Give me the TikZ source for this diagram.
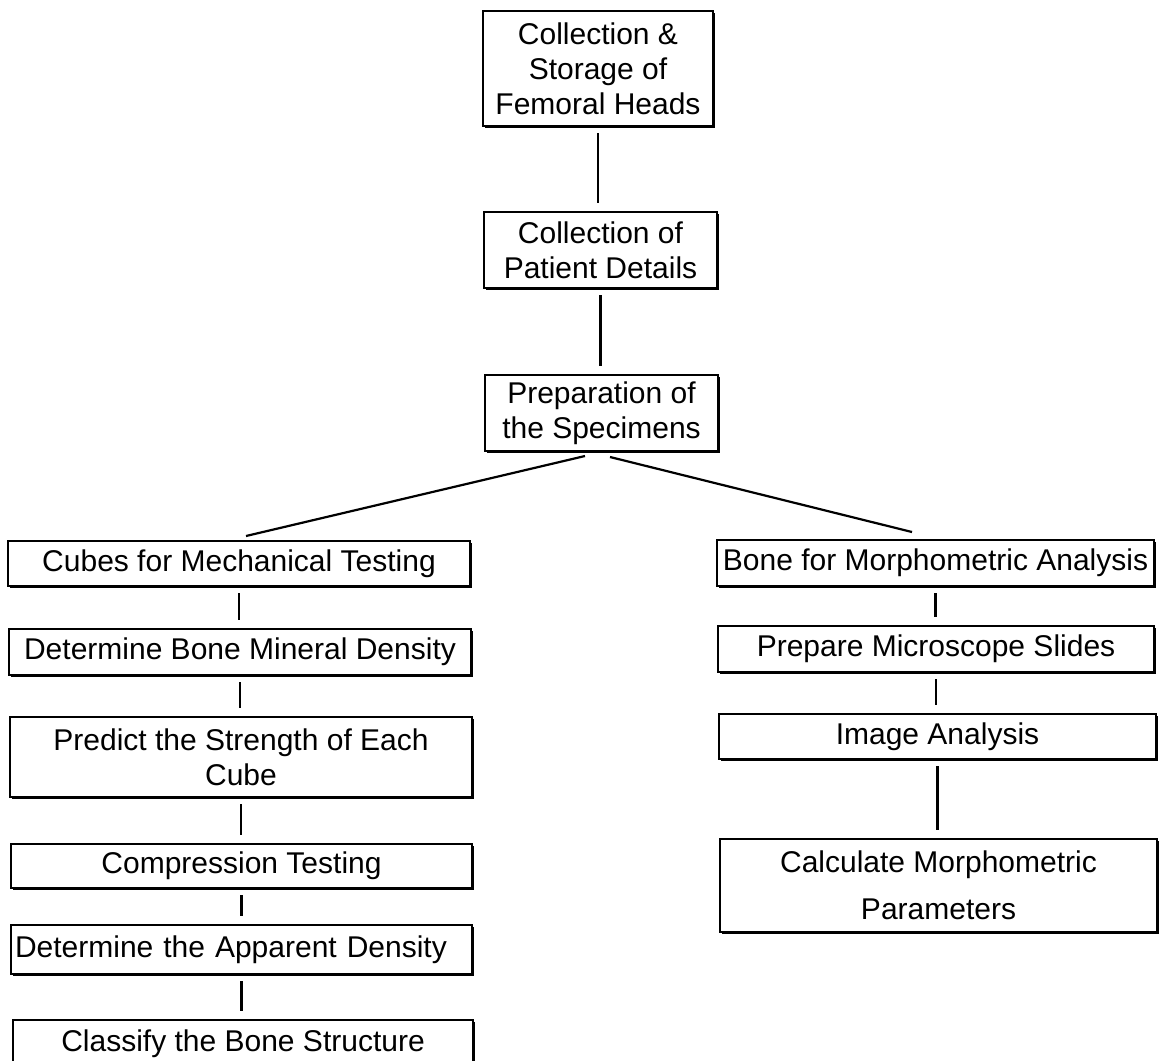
\documentclass[tikz,border=0pt]{standalone}
\usepackage{fontspec}
\setmainfont{Liberation Sans}
\usetikzlibrary{shadows}

\tikzset{
  stage/.style={draw=black,fill=white,line width=1pt,inner xsep=2pt,inner ysep=1pt,
    align=center,font=\fontsize{15}{17.5}\selectfont,
    drop shadow={shadow xshift=0.9pt,shadow yshift=-0.9pt,fill=black,opacity=1}},
  link/.style={line width=1.1pt,shorten <=3pt,shorten >=4pt}
}

\begin{document}
\begin{tikzpicture}[x=0.5pt,y=-0.5pt]

  \useasboundingbox (0,0) rectangle (1159,1060);

  % common trunk
  \node[stage,minimum width=115pt,minimum height=57.5pt] (femheads) at (598,68.5)
    {Collection \&\\Storage of\\Femoral Heads};
  \node[stage,minimum width=116.5pt,minimum height=38pt] (patient) at (600.5,250)
    {Collection of\\Patient Details};
  \node[stage,minimum width=116.5pt,minimum height=38pt] (prep) at (601.5,413)
    {Preparation of\\the Specimens};

  % mechanical branch
  \node[stage,minimum width=231pt,minimum height=22.5pt] (cubes) at (239,563.5)
    {Cubes for Mechanical Testing};
  \node[stage,minimum width=231pt,minimum height=23pt] (bmd) at (240,652)
    {Determine Bone Mineral Density};
  \node[stage,minimum width=231pt,minimum height=40pt] (predict) at (241,757)
    {Predict the Strength of Each\\Cube};
  \node[stage,minimum width=230.5pt,minimum height=22pt] (compr) at (241.5,866)
    {Compression Testing};
  \node[stage,text width=226.5pt,align=left,minimum height=24.5pt] (appdens) at (241.5,949.5)
    {Determine the Apparent Density};
  \node[stage,minimum width=230pt,minimum height=24pt] (classify) at (243,1044)
    {Classify the Bone Structure};

  % morphometric branch
  \node[stage,minimum width=218.5pt,minimum height=23pt] (bone) at (935.5,563)
    {Bone for Morphometric Analysis};
  \node[stage,minimum width=218pt,minimum height=23pt] (slides) at (936,649)
    {Prepare Microscope Slides};
  \node[stage,minimum width=218.5pt,minimum height=22.5pt] (imganal) at (937.5,736.5)
    {Image Analysis};
  \node[stage,minimum width=218.5pt,minimum height=46.5pt] (calc) at (938.5,885.5)
    {Calculate Morphometric\\[6pt]Parameters};

  % vertical links
  \foreach \a/\b in {femheads/patient,patient/prep,cubes/bmd,bmd/predict,predict/compr,
                     compr/appdens,appdens/classify,bone/slides,slides/imganal,imganal/calc} {
    \draw[link] (\a.south) -- (\a.south |- \b.north);
  };

  % split into the two branches
  \draw[line width=1.1pt] ([xshift=-8.25pt,yshift=-2pt]prep.south) -- ([xshift=3.5pt,yshift=2pt]cubes.north);
  \draw[line width=1.1pt] ([xshift=4.25pt,yshift=-2.5pt]prep.south) -- ([xshift=-11.75pt,yshift=3.5pt]bone.north);

\end{tikzpicture}
\end{document}
